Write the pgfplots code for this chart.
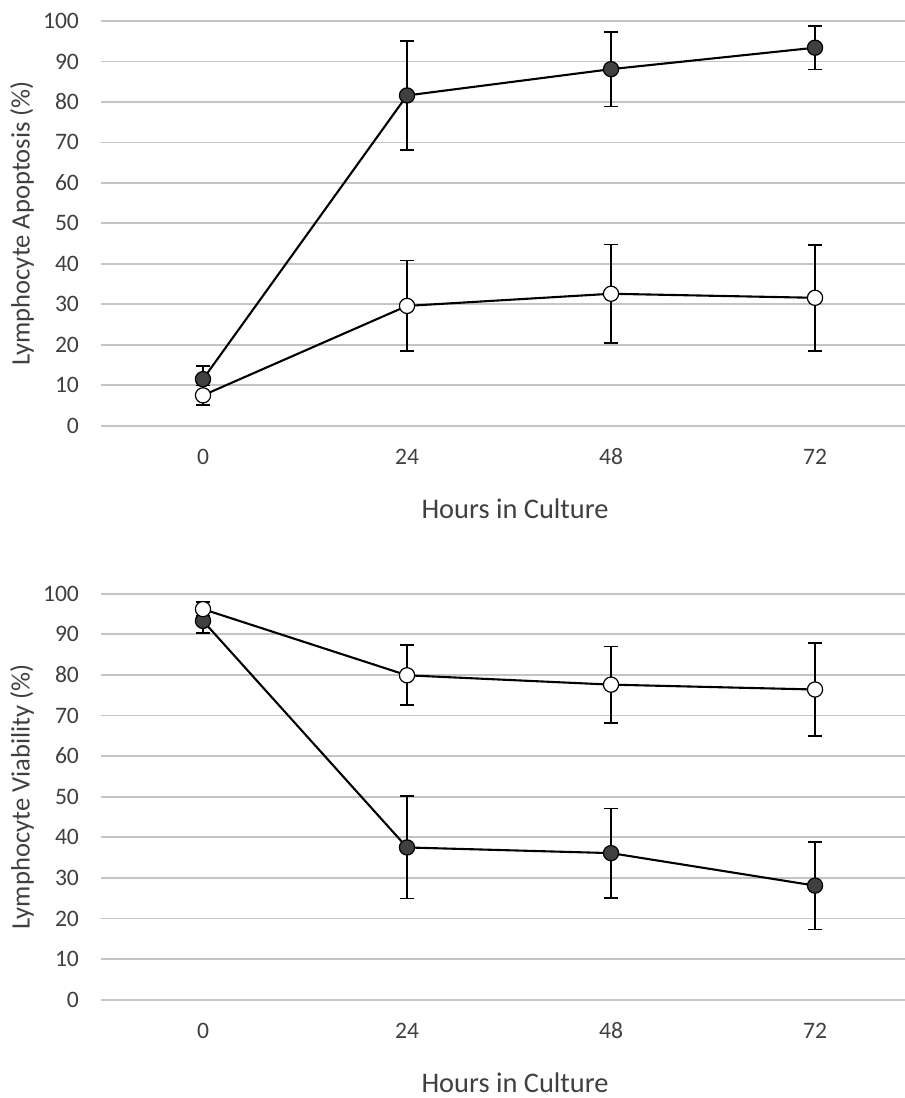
\documentclass[border=0pt]{standalone}
\usepackage{fontspec}
\setmainfont{Carlito}
\usepackage{pgfplots}
\pgfplotsset{compat=1.18}
\definecolor{gridc}{RGB}{196,196,196}
\definecolor{txtc}{RGB}{64,64,64}
\definecolor{darkfill}{RGB}{64,64,64}
\pgfplotsset{
  myaxis/.style={
    scale only axis,
    width=402pt,
    xmin=-0.5, xmax=3.441,
    ymin=0, ymax=100,
    ytick={0,10,...,100},
    xtick={0,1,2,3},
    xticklabels={0,24,48,72},
    axis line style={draw=none},
    major tick length=0pt,
    ymajorgrids,
    grid style={gridc, line width=0.85pt},
    /pgf/number format/assume math mode=true,
    tick label style={font=\fontsize{11.8}{13}\selectfont, text=txtc},
    yticklabel style={anchor=east, xshift=-7.5pt},
    xticklabel style={anchor=center, yshift=-15.5pt},
    label style={text=txtc},
    xlabel style={font=\fontsize{14.2}{16}\selectfont, at={(axis description cs:0.515,0)}, anchor=center, yshift=-41.5pt},
    ylabel style={font=\fontsize{13.3}{15}\selectfont, at={(axis description cs:-0.0983,0.5)}, anchor=center},
    xlabel={Hours in Culture},
    clip=false,
  },
  fillser/.style={black, line width=1.05pt, mark=*, mark size=3.8pt,
    mark options={fill=darkfill, draw=black, line width=0.6pt},
    error bars/.cd, y dir=both, y explicit,
    error bar style={black, line width=0.85pt},
    error mark options={rotate=90, mark size=3.5pt, line width=0.85pt, black}},
  openser/.style={black, line width=1.05pt, mark=*, mark size=3.8pt,
    mark options={fill=white, draw=black, line width=0.6pt},
    error bars/.cd, y dir=both, y explicit,
    error bar style={black, line width=0.85pt},
    error mark options={rotate=90, mark size=3.5pt, line width=0.85pt, black}},
}
\begin{document}
\begin{tikzpicture}
\useasboundingbox (0,0) rectangle (452.5pt,549pt);
\begin{axis}[myaxis, at={(50.5pt,336.15pt)}, anchor=south west, height=202.35pt,
  ylabel={Lymphocyte Apoptosis (\%)}]
\addplot+[fillser] coordinates {
  (0,11.5) +- (0,3.3)
  (1,81.6) +- (0,13.5)
  (2,88.1) +- (0,9.2)
  (3,93.4) +- (0,5.4)
};
\addplot+[openser] coordinates {
  (0,7.5) +- (0,2.4)
  (1,29.6) +- (0,11.2)
  (2,32.6) +- (0,12.2)
  (3,31.6) +- (0,13.1)
};
\end{axis}
\begin{axis}[myaxis, at={(50.5pt,49.15pt)}, anchor=south west, height=203pt,
  ylabel={Lymphocyte Viability (\%)}]
\addplot+[fillser] coordinates {
  (0,93.3) +- (0,2.9)
  (1,37.5) +- (0,12.6)
  (2,36.1) +- (0,11.0)
  (3,28.1) +- (0,10.8)
};
\addplot+[openser] coordinates {
  (0,96.2) +- (0,1.7)
  (1,79.9) +- (0,7.4)
  (2,77.6) +- (0,9.4)
  (3,76.4) +- (0,11.5)
};
\end{axis}
\end{tikzpicture}
\end{document}
